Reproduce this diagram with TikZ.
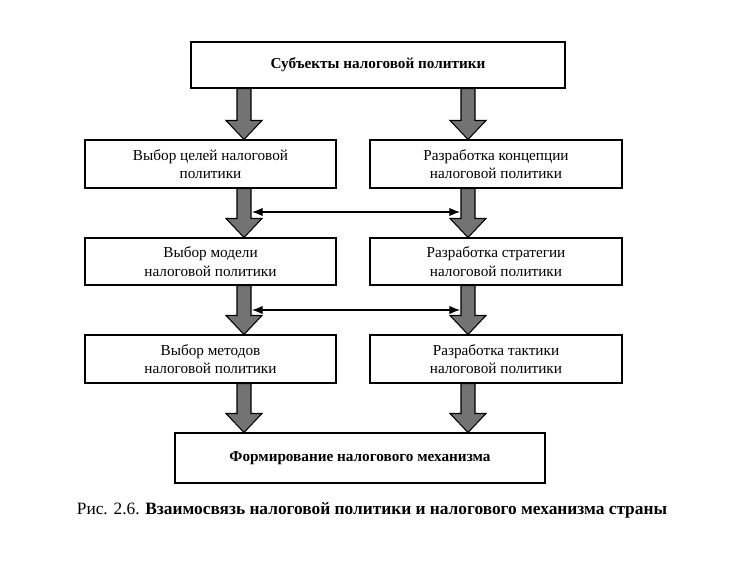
\documentclass[tikz,border=0pt]{standalone}
\usepackage{fontspec}
\setmainfont{Liberation Serif}
\usetikzlibrary{calc,arrows.meta}
\tikzset{
  box/.style={draw, line width=0.9pt, inner sep=0pt, align=center,
    font=\fontsize{13}{16}\selectfont},
  thin/.style={<->, >={Latex[length=9pt,width=7pt]}, line width=0.9pt}
}
\newcommand{\grarrow}[3]{%
  \draw[fill=black!55, line width=0.9pt]
    ($(#2.south -| #1)+(-7,0)$) -- ($(#3.north -| #1)+(-7,-19)$)
    -- ($(#3.north -| #1)+(-18,-19)$) -- (#3.north -| #1)
    -- ($(#3.north -| #1)+(18,-19)$) -- ($(#3.north -| #1)+(7,-19)$)
    -- ($(#2.south -| #1)+(7,0)$) -- cycle;}
\begin{document}
\begin{tikzpicture}[x=0.03cm, y=-0.03cm]
    \useasboundingbox (0,0) rectangle (750,561);
    \coordinate (xl) at (244,0);
    \coordinate (xr) at (468,0);
    \node[box, minimum width=374*0.03cm, minimum height=46*0.03cm] (subj) at (378,65)
        {\textbf{Субъекты налоговой политики}};
    \node[box, minimum width=251*0.03cm, minimum height=48*0.03cm] (goal) at (210.5,164)
        {Выбор целей налоговой\\политики};
    \node[box, minimum width=252*0.03cm, minimum height=48*0.03cm] (conc) at (496,164)
        {Разработка концепции\\налоговой политики};
    \node[box, minimum width=251*0.03cm, minimum height=47*0.03cm] (model) at (210.5,261.5)
        {Выбор модели\\налоговой политики};
    \node[box, minimum width=252*0.03cm, minimum height=47*0.03cm] (strat) at (496,261.5)
        {Разработка стратегии\\налоговой политики};
    \node[box, minimum width=251*0.03cm, minimum height=48*0.03cm] (meth) at (210.5,359)
        {Выбор методов\\налоговой политики};
    \node[box, minimum width=252*0.03cm, minimum height=48*0.03cm] (tact) at (496,359)
        {Разработка тактики\\налоговой политики};
    \node[box, minimum width=370*0.03cm, minimum height=50*0.03cm] (mech) at (360,458)
        {\textbf{Формирование налогового механизма}};
    % thick arrows
    \grarrow{xl}{subj}{goal}
    \grarrow{xr}{subj}{conc}
    \grarrow{xl}{goal}{model}
    \grarrow{xr}{conc}{strat}
    \grarrow{xl}{model}{meth}
    \grarrow{xr}{strat}{tact}
    \grarrow{xl}{meth}{mech}
    \grarrow{xr}{tact}{mech}
    % links
    \coordinate (a1) at (252,212);
    \coordinate (b1) at (460,212);
    \coordinate (a2) at (252,310);
    \coordinate (b2) at (460,310);
    \draw[thin] (a1) -- (b1);
    \draw[thin] (a2) -- (b2);
    \node[font=\fontsize{14.8}{17}\selectfont] (cap) at (372,510)
        {Рис. 2.6. \textbf{Взаимосвязь налоговой политики и налогового механизма страны}};
\end{tikzpicture}
\end{document}
